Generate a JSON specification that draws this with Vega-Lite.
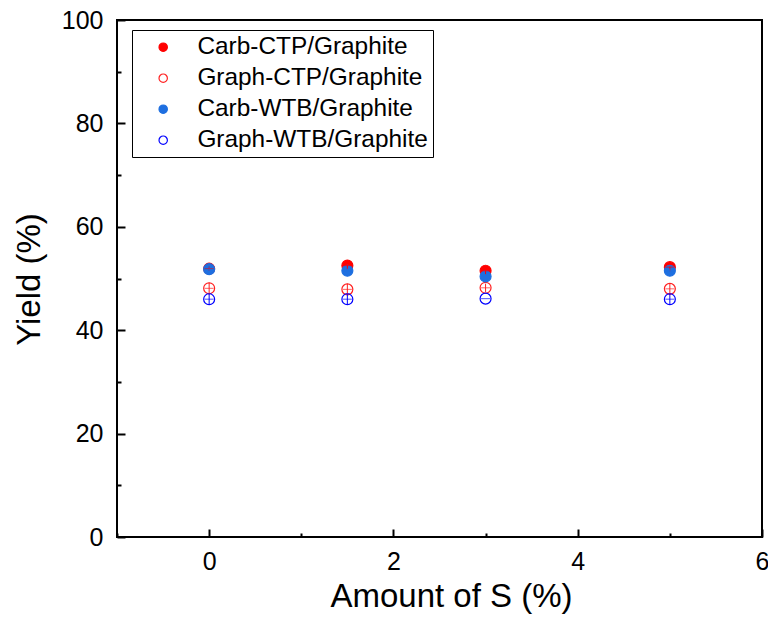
{
  "$schema": "https://vega.github.io/schema/vega-lite/v6.json",
  "width": 645,
  "height": 517,
  "autosize": {"type": "none"},
  "padding": {"left": 117, "top": 20, "right": 6, "bottom": 83},
  "background": "white",
  "config": {
    "font": "Liberation Sans",
    "view": {"stroke": "black", "strokeWidth": 2},
    "axis": {"domain": false, "grid": false, "tickColor": "black", "tickWidth": 2, "labelColor": "black", "titleColor": "black", "labelFont": "Liberation Sans", "titleFont": "Liberation Sans", "labelFontSize": 25, "titleFontSize": 33, "titleFontWeight": "normal", "labelOverlap": false, "labelFlush": false, "labelBound": false}
  },
  "data": {
    "values": [
      {"series": "Carb-CTP/Graphite", "x": 0, "y": 51.9, "lo": 51.5, "hi": 52.3},
      {"series": "Carb-CTP/Graphite", "x": 1.5, "y": 52.5, "lo": 51.7, "hi": 52.6},
      {"series": "Carb-CTP/Graphite", "x": 3, "y": 51.5, "lo": 50.8, "hi": 51.6},
      {"series": "Carb-CTP/Graphite", "x": 5, "y": 52.2, "lo": 51.4, "hi": 52.3},
      {"series": "Graph-CTP/Graphite", "x": 0, "y": 48.1, "lo": 47.0, "hi": 49.2},
      {"series": "Graph-CTP/Graphite", "x": 1.5, "y": 47.9, "lo": 46.8, "hi": 49.0},
      {"series": "Graph-CTP/Graphite", "x": 3, "y": 48.2, "lo": 47.4, "hi": 49.0},
      {"series": "Graph-CTP/Graphite", "x": 5, "y": 48.0, "lo": 46.9, "hi": 49.1},
      {"series": "Carb-WTB/Graphite", "x": 0, "y": 51.8, "lo": 51.4, "hi": 52.2},
      {"series": "Carb-WTB/Graphite", "x": 1.5, "y": 51.5, "lo": 51.1, "hi": 51.9},
      {"series": "Carb-WTB/Graphite", "x": 3, "y": 50.4, "lo": 50.0, "hi": 50.8},
      {"series": "Carb-WTB/Graphite", "x": 5, "y": 51.5, "lo": 51.1, "hi": 51.9},
      {"series": "Graph-WTB/Graphite", "x": 0, "y": 46.0, "lo": 44.9, "hi": 47.1},
      {"series": "Graph-WTB/Graphite", "x": 1.5, "y": 46.0, "lo": 44.9, "hi": 47.1},
      {"series": "Graph-WTB/Graphite", "x": 3, "y": 46.1, "lo": 46.1, "hi": 46.1},
      {"series": "Graph-WTB/Graphite", "x": 5, "y": 46.0, "lo": 44.9, "hi": 47.1}
    ]
  },
  "resolve": {"scale": {"x": "independent", "y": "independent"}, "axis": {"x": "independent", "y": "independent"}},
  "layer": [
    {
      "mark": {"type": "point", "opacity": 0},
      "encoding": {
        "x": {
          "field": "x", "type": "quantitative",
          "scale": {"domain": [-1, 6], "nice": false, "zero": false},
          "axis": {"orient": "bottom", "title": null, "labels": false, "values": [-1, 1, 3, 5], "tickSize": -4}
        },
        "y": {
          "field": "y", "type": "quantitative",
          "scale": {"domain": [0, 100], "nice": false},
          "axis": {"orient": "left", "title": null, "labels": false, "values": [10, 30, 50, 70, 90], "tickSize": -4}
        }
      }
    },
    {
      "encoding": {
        "x": {
          "field": "x", "type": "quantitative",
          "scale": {"domain": [-1, 6], "nice": false, "zero": false},
          "axis": {
            "orient": "bottom",
            "title": "Amount of S (%)",
            "values": [0, 2, 4, 6],
            "tickSize": -8,
            "labelPadding": 20,
            "titleX": 334,
            "titleY": 69,
            "titleBaseline": "alphabetic",
            "titleAnchor": null,
            "titleAlign": "center"
          }
        },
        "y": {
          "field": "y", "type": "quantitative",
          "scale": {"domain": [0, 100], "nice": false},
          "axis": {
            "orient": "left",
            "title": "Yield (%)",
            "values": [0, 20, 40, 60, 80, 100],
            "tickSize": -8,
            "labelPadding": 22,
            "titleX": -78,
            "titleY": 259,
            "titleBaseline": "alphabetic",
            "titleAlign": "center",
            "titleAngle": 270
          }
        }
      },
      "layer": [
        {
          "mark": {"type": "point", "shape": "circle", "size": 120, "strokeWidth": 1.2, "opacity": 1},
          "encoding": {
            "stroke": {
              "field": "series", "type": "nominal",
              "scale": {"domain": ["Carb-CTP/Graphite", "Graph-CTP/Graphite", "Carb-WTB/Graphite", "Graph-WTB/Graphite"], "range": ["#FF0000", "#FF2020", "#1E6FE0", "#0000FF"]},
              "legend": {"orient": "none", "legendX": 15, "legendY": 10, "title": null, "labelFontSize": 24.4, "labelFont": "Liberation Sans", "labelColor": "black", "labelLimit": 0, "symbolSize": 70, "symbolType": "circle", "symbolStrokeWidth": 1.2, "strokeColor": "black", "padding": 5, "rowPadding": 6, "symbolOffset": 14, "labelOffset": 22}
            },
            "fill": {
              "field": "series", "type": "nominal",
              "scale": {"domain": ["Carb-CTP/Graphite", "Graph-CTP/Graphite", "Carb-WTB/Graphite", "Graph-WTB/Graphite"], "range": ["#FF0000", "transparent", "#1E6FE0", "transparent"]},
              "legend": {"orient": "none", "legendX": 15, "legendY": 10, "title": null, "labelFontSize": 24.4, "labelFont": "Liberation Sans", "labelColor": "black", "labelLimit": 0, "symbolSize": 70, "symbolType": "circle", "symbolStrokeWidth": 1.2, "strokeColor": "black", "padding": 5, "rowPadding": 6, "symbolOffset": 14, "labelOffset": 22}
            }
          }
        },
        {
          "mark": {"type": "rule", "strokeWidth": 1},
          "encoding": {
            "y": {"field": "lo", "type": "quantitative"},
            "y2": {"field": "hi"},
            "color": {"field": "series", "type": "nominal", "legend": null,
              "scale": {"domain": ["Carb-CTP/Graphite", "Graph-CTP/Graphite", "Carb-WTB/Graphite", "Graph-WTB/Graphite"], "range": ["#FF0000", "#FF2020", "#1E6FE0", "#0000FF"]}}
          }
        },
        {
          "mark": {"type": "tick", "orient": "horizontal", "size": 9, "thickness": 1},
          "encoding": {
            "color": {"field": "series", "type": "nominal", "legend": null,
              "scale": {"domain": ["Carb-CTP/Graphite", "Graph-CTP/Graphite", "Carb-WTB/Graphite", "Graph-WTB/Graphite"], "range": ["#FF0000", "#FF2020", "#1E6FE0", "#0000FF"]}}
          }
        }
      ]
    }
  ]
}
